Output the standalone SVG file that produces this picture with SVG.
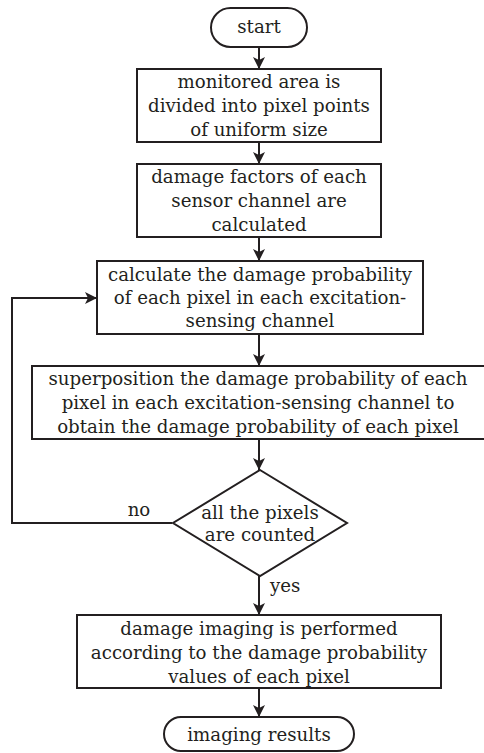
<svg xmlns="http://www.w3.org/2000/svg" width="484" height="753" viewBox="0 0 484 753">
<style>
.box{fill:#fff;stroke:#231f20;stroke-width:2}
.ln{fill:none;stroke:#231f20;stroke-width:2}
text{font-family:"DejaVu Serif","Liberation Serif",serif;font-size:18.2px;fill:#231f20;text-anchor:middle}
</style>
<defs>
<marker id="ah" viewBox="0 0 12 12" refX="12" refY="6" markerWidth="12" markerHeight="12" markerUnits="userSpaceOnUse" orient="auto">
<path d="M0,0 L12,6 L0,12 L3,6 Z" fill="#231f20"/>
</marker>
</defs>
<rect width="484" height="753" fill="#fff"/>
<g id="connectors">
<line class="ln" x1="259" y1="47" x2="259" y2="69" marker-end="url(#ah)"/>
<line class="ln" x1="259" y1="142" x2="259" y2="164" marker-end="url(#ah)"/>
<line class="ln" x1="259" y1="237" x2="259" y2="261" marker-end="url(#ah)"/>
<line class="ln" x1="259" y1="334" x2="259" y2="366" marker-end="url(#ah)"/>
<line class="ln" x1="259" y1="439" x2="259" y2="470" marker-end="url(#ah)"/>
<line class="ln" x1="259" y1="576" x2="259" y2="615" marker-end="url(#ah)"/>
<line class="ln" x1="259" y1="688" x2="259" y2="717" marker-end="url(#ah)"/>
<polyline class="ln" points="172,523 12,523 12,298 97,298" marker-end="url(#ah)"/>
<text x="139" y="516">no</text>
<text x="270" y="592" style="text-anchor:start">yes</text>
</g>
<g id="start">
<rect class="box" x="211" y="8" width="96" height="39" rx="19.5"/>
<text x="259" y="33">start</text>
</g>
<g id="divide">
<rect class="box" x="137" y="69" width="244" height="73"/>
<text x="259" y="88">monitored area  is</text>
<text x="259" y="112">divided into pixel points</text>
<text x="259" y="136">of uniform size</text>
</g>
<g id="factors">
<rect class="box" x="137" y="164" width="244" height="73"/>
<text x="259" y="183">damage factors of each</text>
<text x="259" y="207">sensor channel are</text>
<text x="259" y="231">calculated</text>
</g>
<g id="calc">
<rect class="box" x="97" y="261" width="326" height="73"/>
<text x="260" y="281">calculate the damage probability</text>
<text x="260" y="304">of each pixel in each excitation-</text>
<text x="260" y="327">sensing channel</text>
</g>
<g id="superpose">
<rect class="box" x="32" y="366" width="453" height="73"/>
<text x="258" y="385">superposition the damage probability of each</text>
<text x="258" y="409">pixel in each excitation-sensing channel to</text>
<text x="258" y="433">obtain the damage probability of each pixel</text>
</g>
<g id="decision">
<polygon class="box" points="260,470 347,523 260,576 173,523"/>
<text x="260" y="519">all the pixels</text>
<text x="260" y="541">are counted</text>
</g>
<g id="imaging">
<rect class="box" x="77" y="615" width="364" height="73"/>
<text x="259" y="635">damage imaging is performed</text>
<text x="259" y="659">according to the damage probability</text>
<text x="259" y="683">values of each pixel</text>
</g>
<g id="results">
<rect class="box" x="164" y="717" width="190" height="34" rx="17"/>
<text x="259" y="741">imaging results</text>
</g>
</svg>
